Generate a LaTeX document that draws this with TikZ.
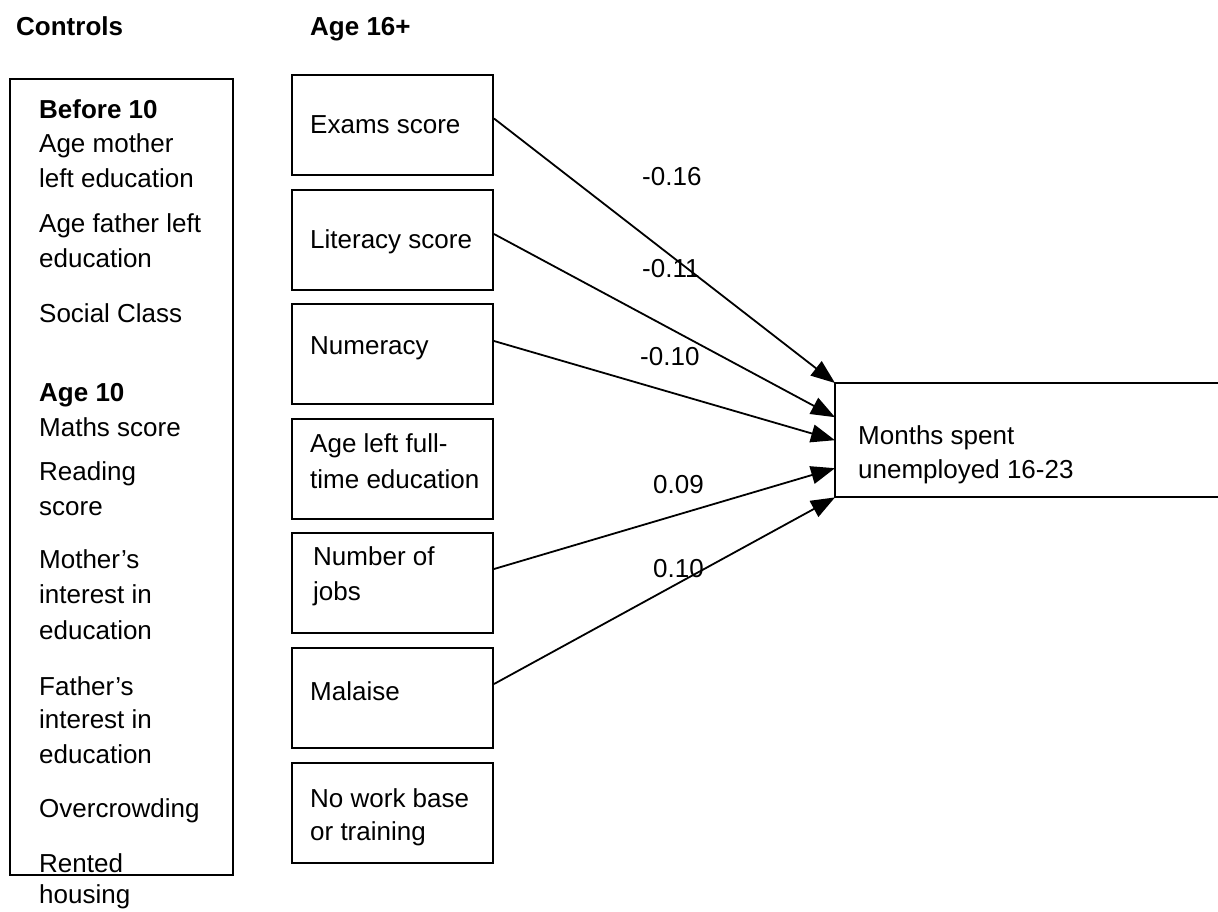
\documentclass[tikz,border=0pt]{standalone}
\usepackage{fontspec}
\setmainfont{Liberation Sans}
\usetikzlibrary{arrows.meta}
\begin{document}
\begin{tikzpicture}[x=1pt,y=-1pt,
  font=\fontsize{26}{31}\selectfont,
  box/.style={draw, line width=2pt, rectangle, inner sep=0pt, minimum width=201pt, minimum height=100pt, anchor=north west},
  txt/.style={anchor=base west, inner sep=0pt},
  arr/.style={line width=1.8pt, -{Triangle[length=24pt,width=18pt]}}]
\useasboundingbox (0,0) rectangle (1218,911);

% headings
\node[txt] (hctrl) at (16,35) {\bfseries Controls};
\node[txt] (hage) at (310,35) {\bfseries Age 16+};

% controls box
\node[box, minimum width=223pt, minimum height=796pt] (ctrl) at (9,78) {};
\node[txt] (c1) at (39,118) {\bfseries Before 10};
\node[txt] (c2) at (39,152) {Age mother};
\node[txt] (c3) at (39,187) {left education};
\node[txt] (c4) at (39,232) {Age father left};
\node[txt] (c5) at (39,267) {education};
\node[txt] (c6) at (39,322) {Social Class};
\node[txt] (c7) at (39,401) {\bfseries Age 10};
\node[txt] (c8) at (39,436) {Maths score};
\node[txt] (c9) at (39,480) {Reading};
\node[txt] (c10) at (39,515) {score};
\node[txt] (c11) at (39,568) {Mother’s};
\node[txt] (c12) at (39,603) {interest in};
\node[txt] (c13) at (39,639) {education};
\node[txt] (c14) at (39,695) {Father’s};
\node[txt] (c15) at (39,728) {interest in};
\node[txt] (c16) at (39,763) {education};
\node[txt] (c17) at (39,817) {Overcrowding};
\node[txt] (c18) at (39,872) {Rented};
\node[txt] (c19) at (39,903) {housing};

% age 16+ boxes
\node[box] (exams) at (291,74) {};
\node[box] (lit) at (291,189) {};
\node[box] (num) at (291,303) {};
\node[box] (ageleft) at (291,418) {};
\node[box] (jobs) at (291,532) {};
\node[box] (mal) at (291,647) {};
\node[box] (nowork) at (291,762) {};

\node[txt] (t1) at (310,133) {Exams score};
\node[txt] (t2) at (310,248) {Literacy score};
\node[txt] (t3) at (310,354) {Numeracy};
\node[txt] (t4) at (310,452) {Age left full-};
\node[txt] (t5) at (310,488) {time education};
\node[txt] (t6) at (313,565) {Number of};
\node[txt] (t7) at (313,600) {jobs};
\node[txt] (t8) at (310,700) {Malaise};
\node[txt] (t9) at (310,807) {No work base};
\node[txt] (t10) at (310,840) {or training};

% outcome box (open on the right)
\node[rectangle, inner sep=0pt, minimum width=383pt, minimum height=114pt, anchor=north west] (out) at (835,383) {};
\draw[line width=2pt] (out.north east) -- (out.north west) -- (out.south west) -- (out.south east);
\node[txt] (o1) at (858,444) {Months spent};
\node[txt] (o2) at (858,478) {unemployed 16-23};

% arrows
\draw[arr] ([yshift=6.5pt]exams.east) -- (out.north west);
\draw[arr] ([yshift=6pt]lit.east) -- ([yshift=23pt]out.west);
\draw[arr] ([yshift=13pt]num.east) -- (out.west);
\draw[arr] ([yshift=14pt]jobs.east) -- ([yshift=-28pt]out.west);
\draw[arr] ([yshift=14pt]mal.east) -- (out.south west);

% coefficients
\node[txt] (l1) at (642,185) {-0.16};
\node[txt] (l2) at (642,277) {-0.11};
\node[txt] (l3) at (640,365) {-0.10};
\node[txt] (l4) at (653,493) {0.09};
\node[txt] (l5) at (653,577) {0.10};
\end{tikzpicture}
\end{document}
